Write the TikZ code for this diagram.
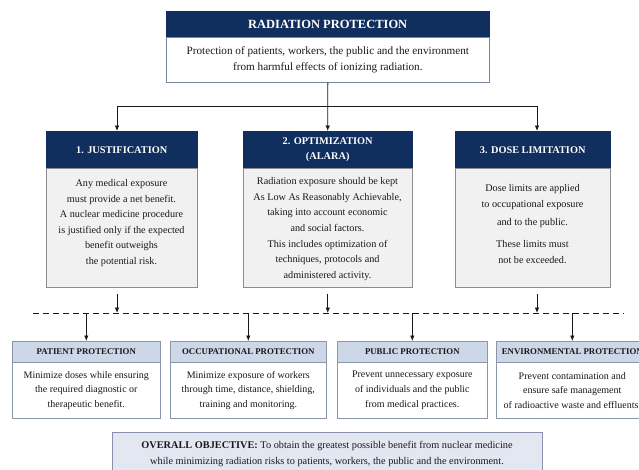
\documentclass[tikz,border=0pt]{standalone}
\usepackage{fontspec}
\setmainfont{Liberation Serif}
\usetikzlibrary{arrows.meta,calc}
\definecolor{navy}{RGB}{16,46,94}
\definecolor{midfill}{RGB}{241,241,242}
\definecolor{midline}{RGB}{140,140,145}
\definecolor{lowhead}{RGB}{204,215,231}
\definecolor{lowline}{RGB}{140,150,170}
\definecolor{botfill}{RGB}{226,231,242}
\definecolor{botline}{RGB}{135,145,172}
\definecolor{topline}{RGB}{120,132,160}
\definecolor{ink}{RGB}{25,25,25}
\tikzset{
  hdr/.style={draw=navy, fill=navy, text=white, anchor=north west, inner sep=0pt,
    align=center, font=\bfseries\fontsize{10.3}{15}\selectfont},
  midbody/.style={draw=midline, fill=midfill, anchor=north west, inner sep=0pt, line width=0.6pt},
  bodytxt/.style={text=ink, align=center, inner sep=0pt, font=\fontsize{10.2}{15.6}\selectfont},
  lowhdr/.style={draw=lowline, fill=lowhead, text=ink, anchor=north west, inner sep=0pt,
    font=\bfseries\fontsize{8.8}{11}\selectfont, line width=0.6pt},
  lowbody/.style={draw=lowline, fill=white, text=ink, anchor=north west, inner sep=0pt, align=center,
    font=\fontsize{10}{14.6}\selectfont, line width=0.6pt},
  arr/.style={draw=ink, line width=0.8pt, -{Latex[length=5.5pt,width=4.5pt]}},
  conn/.style={draw=ink, line width=0.8pt},
}
\begin{document}
\begin{tikzpicture}[x=1pt,y=-1pt]
\useasboundingbox (0,0) rectangle (639,469);
\clip (0,0) rectangle (639,469);
\fill[white] (0,0) rectangle (639,469);

% top box
\node[hdr, minimum width=323pt, minimum height=26pt, font=\bfseries\fontsize{12.5}{15}\selectfont] (th) at (166,11) {RADIATION PROTECTION};
\node[draw=topline, fill=white, anchor=north west, inner sep=0pt, minimum width=323pt, minimum height=45pt,
  align=center, text=ink, font=\fontsize{11.2}{15.5}\selectfont, line width=0.7pt] (tb) at (166,37)
  {Protection of patients, workers, the public and the environment\\from harmful effects of ionizing radiation.};

% middle headers
\node[hdr, minimum width=151pt, minimum height=37pt] (jh) at (46,131) {1. JUSTIFICATION};
\node[hdr, minimum width=169pt, minimum height=37pt] (oh) at (243,131) {2. OPTIMIZATION\\(ALARA)};
\node[hdr, minimum width=155pt, minimum height=37pt] (dh) at (455,131) {3. DOSE LIMITATION};

% middle bodies
\node[midbody, minimum width=151pt, minimum height=119pt] (jb) at (46,168) {};
\node[midbody, minimum width=169pt, minimum height=119pt] (ob) at (243,168) {};
\node[midbody, minimum width=155pt, minimum height=119pt] (db) at (455,168) {};

\node[bodytxt] (jt) at (121.5,223) {Any medical exposure\\must provide a net benefit.\\A nuclear medicine procedure\\is justified only if the expected\\benefit outweighs\\the potential risk.};
\node[bodytxt] (ot) at (327.5,229) {Radiation exposure should be kept\\As Low As Reasonably Achievable,\\taking into account economic\\and social factors.\\This includes optimization of\\techniques, protocols and\\administered activity.};
\node[bodytxt, font=\fontsize{10.2}{16}\selectfont] (dt) at (532.5,224) {Dose limits are applied\\to occupational exposure\\[2pt]and to the public.\\[6pt]These limits must\\not be exceeded.};

% top connectors
\coordinate (bL) at (117,106);
\coordinate (bR) at (537,106);
\draw[arr] (tb.south) -- (oh.north);
\draw[conn] (bL) -- (bR);
\draw[arr] (bL) -- (bL |- jh.north);
\draw[arr] (bR) -- (bR |- dh.north);

% dashed line
\coordinate (dl) at (33,313);
\coordinate (dr) at (624,313);
\draw[draw=ink, line width=0.8pt, dash pattern=on 6pt off 4pt] (dl) -- (dr);

\draw[arr, shorten <=6pt] (bL |- jb.south) -- (bL |- dl);
\draw[arr, shorten <=6pt] (ob.south) -- (ob.south |- dl);
\draw[arr, shorten <=6pt] (bR |- db.south) -- (bR |- dl);

% lower boxes
\node[lowhdr, minimum width=148pt, minimum height=21pt] (ph) at (12,341) {PATIENT PROTECTION};
\node[lowhdr, minimum width=156pt, minimum height=21pt] (qh) at (170,341) {OCCUPATIONAL PROTECTION};
\node[lowhdr, minimum width=150pt, minimum height=21pt] (uh) at (337,341) {PUBLIC PROTECTION};
\node[lowhdr, minimum width=152pt, minimum height=21pt] (eh) at (496,341) {ENVIRONMENTAL PROTECTION};

\node[lowbody, minimum width=148pt, minimum height=56pt] (pb) at (12,362) {Minimize doses while ensuring\\the required diagnostic or\\therapeutic benefit.};
\node[lowbody, minimum width=156pt, minimum height=56pt] (qb) at (170,362) {Minimize exposure of workers\\through time, distance, shielding,\\training and monitoring.};
\node[lowbody, minimum width=150pt, minimum height=56pt] (ub) at (337,362) {Prevent unnecessary exposure\\of individuals and the public\\from medical practices.};
\node[lowbody, minimum width=152pt, minimum height=56pt] (eb) at (496,362) {Prevent contamination and\\ensure safe management\\of radioactive waste and effluents.};

\draw[arr] (ph.north |- dl) -- (ph.north);
\draw[arr] (qh.north |- dl) -- (qh.north);
\draw[arr] (uh.north |- dl) -- (uh.north);
\draw[arr] (eh.north |- dl) -- (eh.north);

% bottom box
\node[draw=botline, fill=botfill, anchor=north west, inner sep=0pt, minimum width=430pt, minimum height=55pt, line width=1pt] (ob2) at (112,432) {};
\node[text=ink, align=center, inner sep=0pt, font=\fontsize{10.3}{16}\selectfont] (obt) at (327,454)
  {\textbf{OVERALL OBJECTIVE:} To obtain the greatest possible benefit from nuclear medicine\\while minimizing radiation risks to patients, workers, the public and the environment.};
\end{tikzpicture}
\end{document}
